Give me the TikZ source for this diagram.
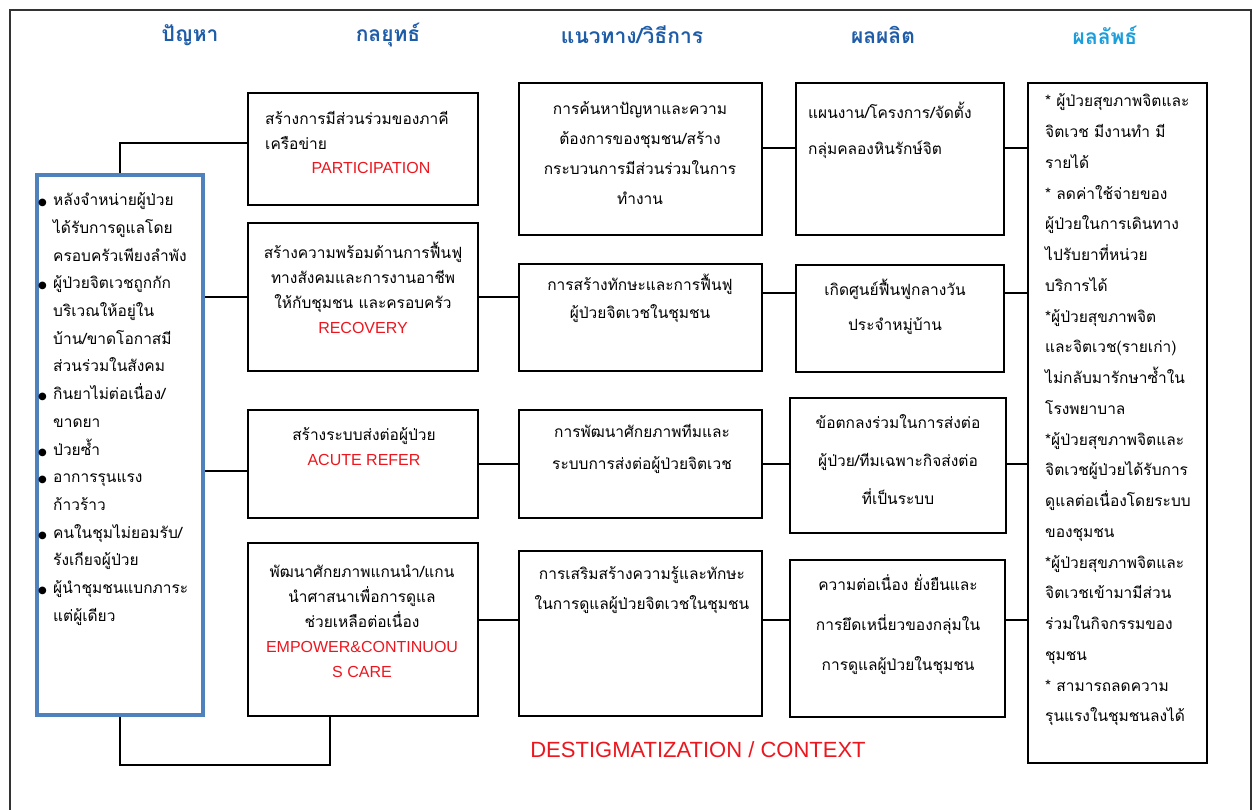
\documentclass[tikz,border=0pt]{standalone}
\usepackage{fontspec}
\setmainfont[Script=Thai]{Loma}
\newfontfamily\thaibold[Script=Thai]{Loma}
\newfontfamily\latinfont{Liberation Sans}
\newfontfamily\symfont{DejaVu Sans}
\definecolor{headblue}{RGB}{31,92,168}
\definecolor{headcyan}{RGB}{28,158,220}
\definecolor{probblue}{RGB}{79,129,189}
\definecolor{engred}{RGB}{236,22,30}
\newcommand\eng[1]{{\latinfont\fontsize{16}{25}\selectfont\color{engred}#1}}
\newcommand\bul{\makebox[15pt][l]{\symfont\fontsize{10}{10}\selectfont ●}}
\newcommand\ind{\hspace*{15pt}}
\tikzset{
  box/.style={draw=black, line width=2.6pt, inner sep=0pt},
  probbox/.style={draw=probblue, line width=4.5pt, inner sep=0pt},
  link/.style={draw=black, line width=2pt},
  head/.style={font=\thaibold\bfseries\fontsize{21}{24}\selectfont, inner sep=0pt},
  txt/.style={inner sep=0pt, font=\fontsize{15.5}{25}\selectfont}
}
\begin{document}
\begin{tikzpicture}[x=1pt,y=-1pt]
\useasboundingbox (0,0) rectangle (1252,810);
% page frame
\draw[line width=1.5pt, black!80] (10,812) -- (10,10) -- (1251,10) -- (1251,812);

% column headings
\node[head, text=headblue] (h1) at (190,35) {ปัญหา};
\node[head, text=headblue] (h2) at (388,35) {กลยุทธ์};
\node[head, text=headblue] (h3) at (632,35) {แนวทาง/วิธีการ};
\node[head, text=headblue] (h4) at (883,35) {ผลผลิต};
\node[head, text=headcyan] (h5) at (1105,35) {ผลลัพธ์};

% problems
\node[probbox, minimum width=166, minimum height=540] (prob) at (120,445) {};
\node[txt, font=\fontsize{15.5}{27.7}\selectfont, align=left, anchor=west] (probtxt) at (38,409) {%
\bul หลังจำหน่ายผู้ป่วย\\ \ind ได้รับการดูแลโดย\\ \ind ครอบครัวเพียงลำพัง\\
\bul ผู้ป่วยจิตเวชถูกกัก\\ \ind บริเวณให้อยู่ใน\\ \ind บ้าน/ขาดโอกาสมี\\ \ind ส่วนร่วมในสังคม\\
\bul กินยาไม่ต่อเนื่อง/\\ \ind ขาดยา\\
\bul ป่วยซ้ำ\\
\bul อาการรุนแรง\\ \ind ก้าวร้าว\\
\bul คนในชุมไม่ยอมรับ/\\ \ind รังเกียจผู้ป่วย\\
\bul ผู้นำชุมชนแบกภาระ\\ \ind แต่ผู้เดียว};

% strategies
\node[box, minimum width=230, minimum height=112] (s1) at (363,149) {};
\node[box, minimum width=230, minimum height=148] (s2) at (363,297) {};
\node[box, minimum width=230, minimum height=108] (s3) at (363,464) {};
\node[box, minimum width=230, minimum height=173] (s4) at (363,629.5) {};
\node[txt, align=left, anchor=west] (s1txt) at (265,130) {สร้างการมีส่วนร่วมของภาคี\\เครือข่าย};
\node[inner sep=0pt] (s1eng) at (371,168) {\eng{PARTICIPATION}};
\node[txt, align=center] (s2txt) at (363,288) {สร้างความพร้อมด้านการฟื้นฟู\\ทางสังคมและการงานอาชีพ\\ให้กับชุมชน และครอบครัว\\\eng{RECOVERY}};
\node[txt, align=center] (s3txt) at (364,447) {สร้างระบบส่งต่อผู้ป่วย\\ \eng{ACUTE REFER}};
\node[txt, align=center] (s4txt) at (362,621) {พัฒนาศักยภาพแกนนำ/แกน\\นำศาสนาเพื่อการดูแล\\ช่วยเหลือต่อเนื่อง\\\eng{EMPOWER\&CONTINUOU}\\\eng{S CARE}};

% approaches
\node[box, minimum width=243, minimum height=152] (m1) at (640.5,159) {};
\node[box, minimum width=243, minimum height=107] (m2) at (640.5,317.5) {};
\node[box, minimum width=243, minimum height=108] (m3) at (640.5,464) {};
\node[box, minimum width=243, minimum height=165] (m4) at (640.5,633.5) {};
\node[txt, align=center, font=\fontsize{15.5}{30}\selectfont] (m1txt) at (640,153) {การค้นหาปัญหาและความ\\ต้องการของชุมชน/สร้าง\\กระบวนการมีส่วนร่วมในการ\\ทำงาน};
\node[txt, align=center, font=\fontsize{15.5}{28}\selectfont] (m2txt) at (640,298) {การสร้างทักษะและการฟื้นฟู\\ผู้ป่วยจิตเวชในชุมชน};
\node[txt, align=center, font=\fontsize{15.5}{32}\selectfont] (m3txt) at (642,449) {การพัฒนาศักยภาพทีมและ\\ระบบการส่งต่อผู้ป่วยจิตเวช};
\node[txt, align=center, font=\fontsize{15.5}{30}\selectfont] (m4txt) at (642,590) {การเสริมสร้างความรู้และทักษะ\\ในการดูแลผู้ป่วยจิตเวชในชุมชน};

% outputs
\node[box, minimum width=208, minimum height=152] (o1) at (900,159) {};
\node[box, minimum width=208, minimum height=107] (o2) at (900,318.5) {};
\node[box, minimum width=216, minimum height=135] (o3) at (898,465.5) {};
\node[box, minimum width=215, minimum height=157] (o4) at (897.5,638.5) {};
\node[txt, align=left, anchor=west, font=\fontsize{15.5}{36}\selectfont] (o1txt) at (808,130) {แผนงาน/โครงการ/จัดตั้ง\\กลุ่มคลองหินรักษ์จิต};
\node[txt, align=center, font=\fontsize{15.5}{35}\selectfont] (o2txt) at (895,307) {เกิดศูนย์ฟื้นฟูกลางวัน\\ประจำหมู่บ้าน};
\node[txt, align=center, font=\fontsize{15.5}{38}\selectfont] (o3txt) at (898,460) {ข้อตกลงร่วมในการส่งต่อ\\ผู้ป่วย/ทีมเฉพาะกิจส่งต่อ\\ที่เป็นระบบ};
\node[txt, align=center, font=\fontsize{15.5}{40}\selectfont] (o4txt) at (898,625) {ความต่อเนื่อง ยั่งยืนและ\\การยึดเหนี่ยวของกลุ่มใน\\การดูแลผู้ป่วยในชุมชน};

% outcomes
\node[box, minimum width=179, minimum height=680] (r) at (1117.5,423) {};
\node[txt, align=left, anchor=west, font=\fontsize{15.5}{30.75}\selectfont] (rtxt) at (1045,410) {%
* ผู้ป่วยสุขภาพจิตและ\\จิตเวช มีงานทำ มี\\รายได้\\
* ลดค่าใช้จ่ายของ\\ผู้ป่วยในการเดินทาง\\ไปรับยาที่หน่วย\\บริการได้\\
*ผู้ป่วยสุขภาพจิต\\และจิตเวช(รายเก่า)\\ไม่กลับมารักษาซ้ำใน\\โรงพยาบาล\\
*ผู้ป่วยสุขภาพจิตและ\\จิตเวชผู้ป่วยได้รับการ\\ดูแลต่อเนื่องโดยระบบ\\ของชุมชน\\
*ผู้ป่วยสุขภาพจิตและ\\จิตเวชเข้ามามีส่วน\\ร่วมในกิจกรรมของ\\ชุมชน\\
* สามารถลดความ\\รุนแรงในชุมชนลงได้};

% context label
\node[inner sep=0pt] (ctx) at (698,750) {{\latinfont\fontsize{22}{26}\selectfont\color{engred}DESTIGMATIZATION / CONTEXT}};

% row levels for the horizontal links
\coordinate (row1) at (0,148);
\coordinate (row2) at (0,293);
\coordinate (row4) at (0,620);

% problems to strategies
\draw[link] (prob.north) |- ([yshift=6pt]s1.west);
\draw[link] (prob.east |- s2.west) -- (s2.west);
\draw[link] (prob.east |- 0,471) -- (s3.west |- 0,471);
\draw[link] (prob.south) -- ++(0,48) -| ([xshift=-33pt]s4.south);

% strategies to approaches
\draw[link] (s2.east) -- (s2.east -| m2.west);
\draw[link] (s3.east) -- (s3.east -| m3.west);
\draw[link] (s4.east |- row4) -- (m4.west |- row4);

% approaches to outputs
\draw[link] (m1.east |- row1) -- (o1.west |- row1);
\draw[link] (m2.east |- row2) -- (o2.west |- row2);
\draw[link] (m3.east) -- (m3.east -| o3.west);
\draw[link] (m4.east |- row4) -- (o4.west |- row4);

% outputs to outcomes
\draw[link] (o1.east |- row1) -- (r.west |- row1);
\draw[link] (o2.east |- row2) -- (r.west |- row2);
\draw[link] (o3.east |- m3.east) -- (r.west |- m3.east);
\draw[link] (o4.east |- row4) -- (r.west |- row4);
\end{tikzpicture}
\end{document}
